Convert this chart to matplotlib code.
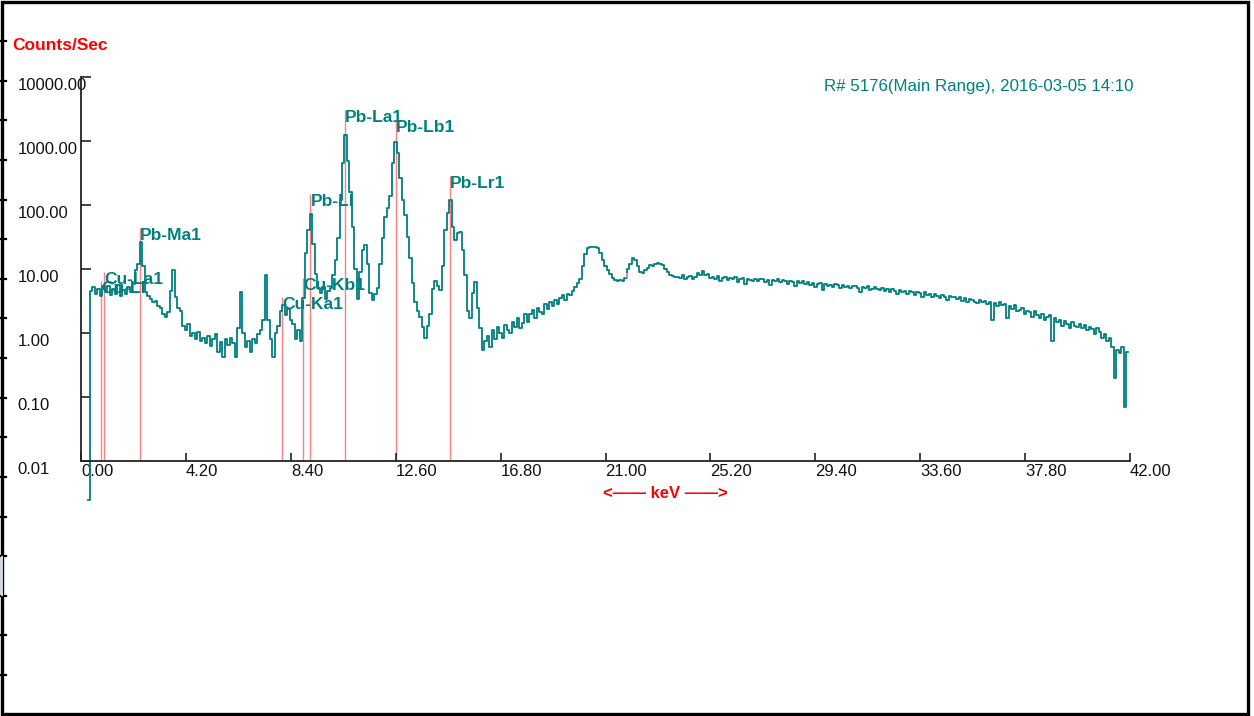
import numpy as np
import matplotlib
matplotlib.use("Agg")
import matplotlib.pyplot as plt
from matplotlib.patches import Rectangle
from matplotlib.lines import Line2D
from matplotlib.transforms import offset_copy

plt.rcParams['font.family'] = ['Liberation Sans', 'DejaVu Sans']

# Spectrum, counts/sec per 0.1 keV channel, starting at 0.3 keV
counts = [
    0.0025, 4.6, 5.3, 4.0, 4.8, 3.8, 5.5,
    4.3, 5.4, 3.9, 4.9, 4.1, 5.6, 3.8, 4.7, 4.0, 5.2,
    4.4, 5.9, 9.5, 12, 26, 11, 4.4, 3.8, 3.4, 3.0,
    3.2, 2.6, 2.5, 2.0, 1.8, 2.1, 4.5, 9.6, 3.6, 2.5,
    2.2, 1.3, 1.1, 1.4, 0.9, 1.0, 0.8, 1.05, 0.75, 0.85,
    0.7, 0.9, 0.62, 0.8, 0.95, 0.5, 0.72, 0.42, 0.8, 0.65,
    0.85, 0.7, 0.42, 1.2, 4.4, 1.0, 0.6, 0.75, 0.5, 0.8,
    0.7, 0.95, 1.1, 1.6, 8.1, 1.6, 0.8, 0.42, 1.0, 1.3,
    2.2, 2.7, 1.9, 2.4, 1.6, 1.4, 0.8, 1.1, 0.75, 3.5,
    18, 40, 72, 25, 8.5, 5.0, 4.2, 5.2, 3.4, 4.6,
    5.0, 8.0, 14, 30, 120, 450, 1240, 480, 160, 45,
    10, 3.4, 9.0, 20, 24, 12, 4.2, 3.3, 4.0, 5.0,
    12, 30, 65, 90, 140, 450, 970, 650, 260, 120,
    70, 32, 15, 6.0, 3.0, 2.2, 1.8, 1.25, 0.85, 1.3,
    2.0, 4.8, 6.5, 5.5, 4.7, 11, 40, 75, 120, 45,
    28, 36, 38, 20, 8.0, 2.2, 1.7, 4.2, 6.3, 2.5,
    1.2, 0.54, 0.75, 0.9, 0.6, 1.1, 0.8, 1.25, 1.0, 0.85,
    1.35, 1.1, 1.0, 1.5, 1.25, 1.7, 1.2, 1.45, 1.95, 1.5,
    2.0, 2.3, 1.7, 2.5, 2.1, 2.0, 2.8, 2.4, 3.0, 2.6,
    3.3, 2.8, 3.5, 3.9, 3.3, 4.1, 3.9, 4.6, 5.3, 6.0,
    7.0, 11, 17, 21, 22, 22, 22, 21, 18, 14,
    11, 9.5, 8.5, 7.2, 6.7, 6.4, 6.7, 6.5, 7.3, 10,
    12, 15, 14, 11, 9.0, 8.8, 9.5, 10.5, 11.5, 11,
    12, 12.5, 12, 11.5, 10, 9.0, 8.0, 7.8, 7.4, 7.6,
    7.3, 8.1, 7.0, 7.6, 7.8, 7.1, 7.5, 8.6, 8.2, 9.2,
    8.0, 8.4, 7.2, 7.6, 7.0, 7.9, 6.6, 7.3, 7.5, 6.7,
    7.2, 6.9, 7.4, 6.3, 7.0, 7.3, 5.8, 7.1, 6.8, 6.6,
    7.0, 6.4, 6.9, 7.1, 6.2, 6.7, 5.6, 6.8, 6.5, 6.9,
    6.2, 6.7, 6.5, 5.9, 6.6, 6.3, 5.4, 6.4, 6.0, 6.5,
    5.8, 6.2, 5.7, 6.1, 5.3, 5.9, 6.0, 4.7, 5.8, 5.5,
    5.7, 5.2, 5.9, 5.6, 5.1, 5.7, 5.3, 5.5, 5.0, 5.4,
    5.5, 5.0, 4.4, 5.3, 5.1, 5.4, 4.7, 4.9, 5.2, 4.8,
    4.7, 5.0, 4.5, 4.9, 4.3, 4.8, 4.6, 4.0, 4.7, 4.4,
    4.6, 4.1, 4.5, 4.3, 3.9, 4.4, 4.2, 3.7, 4.3, 3.9,
    4.1, 3.7, 4.0, 3.8, 3.5, 3.9, 3.6, 3.3, 3.8, 3.6,
    3.6, 3.4, 3.7, 3.2, 3.5, 3.0, 3.4, 3.3, 3.1, 2.9,
    3.3, 3.0, 3.2, 2.8, 3.1, 1.6, 2.9, 2.6, 3.0, 2.7,
    2.8, 1.7, 2.6, 2.4, 2.7, 2.2, 2.3, 2.5, 2.0, 2.2,
    2.1, 1.8, 2.2, 1.9, 1.7, 2.0, 1.6, 1.8, 1.9, 0.75,
    1.7, 1.5, 1.6, 1.3, 1.55, 1.4, 1.2, 1.5, 1.3, 1.25,
    1.4, 1.2, 1.35, 1.1, 1.25, 1.15, 0.95, 1.2, 1.05, 0.85,
    0.95, 0.75, 0.85, 0.6, 0.2, 0.55, 0.48, 0.6, 0.07, 0.5,
]
energy = 0.3 + 0.1 * np.arange(len(counts))

# Element lines (keV) and marker heights (counts/sec)
line_names = ['Cu-Ll', 'Cu-La1', 'Pb-Ma1', 'Cu-Ka1', 'Cu-Kb1',
              'Pb-Ll', 'Pb-La1', 'Pb-Lb1', 'Pb-Lr1']
line_kev = [0.811, 0.930, 2.345, 8.047, 8.905, 9.184, 10.551, 12.614, 14.764]
line_top = [6.5, 9.0, 44, 3.65, 7.2, 149, 3050, 2130, 284]

# short sum-peak marker
sum_kev = 21.86
sum_range = [7.2, 8.7]

xticks = [0.0, 4.2, 8.4, 12.6, 16.8, 21.0, 25.2, 29.4, 33.6, 37.8, 42.0]
yticks = [0.01, 0.1, 1, 10, 100, 1000, 10000]
ytick_labels = ['0.01', '0.10', '1.00', '10.00', '100.00', '1000.00', '10000.00']

TEAL = '#008080'
PINK = '#ff8080'
W, H = 1254, 716

fig = plt.figure(figsize=(W / 100, H / 100), dpi=100)
ax = fig.add_axes([81 / W, 1 - 461 / H, 1049 / W, 384 / H])

ax.set_yscale('log')
ax.set_xlim(0, 42)
ax.set_ylim(0.01, 10000)

for kev, top in zip(line_kev, line_top):
    ax.vlines(kev, 0.01, top, color=PINK, lw=1.0, zorder=1)
ax.vlines(sum_kev, sum_range[0], sum_range[1], color=PINK, lw=1.5, zorder=3)

ax.plot(energy, counts, drawstyle='steps-mid', color=TEAL, lw=1.3,
        clip_on=False, zorder=2)

for name, kev, top in zip(line_names, line_kev, line_top):
    ax.text(kev, top, name, ha='left', va='top', color=TEAL,
            fontsize=12.5, fontweight='bold', zorder=4)

for s in ['top', 'right']:
    ax.spines[s].set_visible(False)
for s in ['left', 'bottom']:
    ax.spines[s].set_color('#222222')
    ax.spines[s].set_linewidth(1.3)

ax.set_xticks(xticks)
ax.set_xticklabels([f'{t:.2f}' for t in xticks])
ax.set_yticks(yticks)
ax.set_yticklabels(ytick_labels)
ax.minorticks_off()
ax.tick_params(axis='both', direction='in', length=6, width=1.2,
               color='#222222', labelsize=12, labelcolor='#111111')
ax.tick_params(axis='x', pad=2)
ax.tick_params(axis='y', pad=45.5, length=7)
for lbl in ax.get_xticklabels():
    lbl.set_ha('left')
for lbl in ax.get_yticklabels():
    lbl.set_ha('left')
    lbl.set_va('top')
    lbl.set_transform(offset_copy(lbl.get_transform(), fig=fig, y=-1, units='points'))

fig.text(12 / W, 1 - 46 / H, 'Counts/Sec', color='red', fontsize=12.5,
         fontweight='bold', ha='left', va='center')
fig.text(665 / W, 1 - 493 / H, '<\u2014\u2014 keV \u2014\u2014>', color='red',
         fontsize=12, fontweight='bold', ha='center', va='center')
fig.text(824 / W, 1 - 87 / H, 'R# 5176(Main Range), 2016-03-05 14:10',
         color=TEAL, fontsize=12.2, ha='left', va='center')

# window frame with its ruler ticks on the left edge
fig.patches.append(Rectangle((1.5 / W, 1 - 714 / H), 1246 / W, 712.5 / H,
                             transform=fig.transFigure, fill=False,
                             edgecolor='black', lw=2.4))
fig.patches.append(Rectangle((0.5 / W, 1 - 596 / H), 2.5 / W, 40 / H,
                             transform=fig.transFigure, facecolor='#c8d8ec',
                             edgecolor='none', zorder=5))
for yp in 41 + 39.63 * np.arange(17):
    fig.lines.append(Line2D([0, 6 / W], [1 - yp / H, 1 - yp / H],
                            transform=fig.transFigure, color='black', lw=1.6))

fig.savefig('out.png', dpi=100)
